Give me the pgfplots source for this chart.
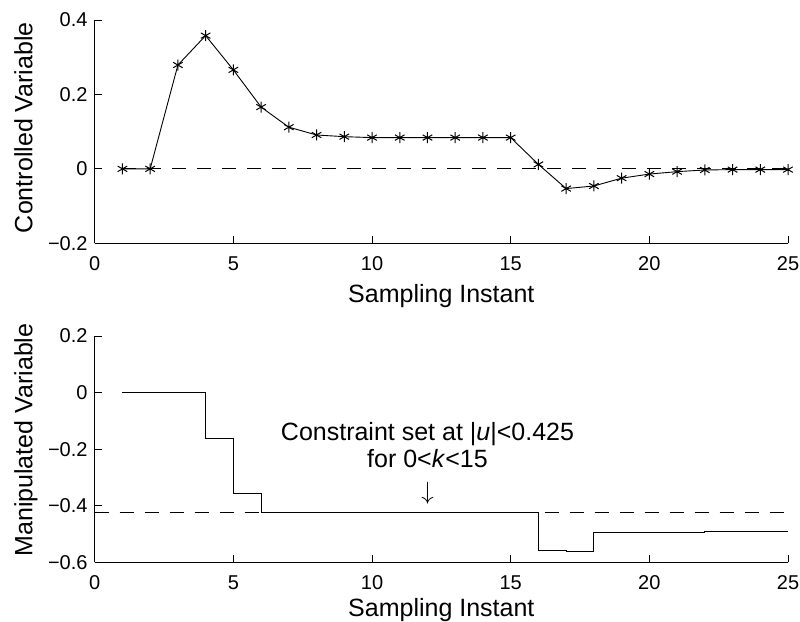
\documentclass[border=0pt]{standalone}
\usepackage{pgfplots}
\pgfplotsset{compat=1.18}
\usepackage{fontspec}
\setmainfont{Liberation Sans}
\begin{document}
\begin{tikzpicture}
\useasboundingbox (0pt,0pt) rectangle (800pt,621pt);
\pgfplotsset{mystyle/.style={
  scale only axis, width=693.3pt,
  xmin=0, xmax=25,
  axis x line*=bottom, axis y line*=left,
  axis line style={-, line width=0.8pt, black},
  tick align=inside, major tick length=7pt,
  tick style={line width=0.8pt, black},
  xtick={0,5,10,15,20,25}, xticklabels={0,5,10,15,20,25},
  ticklabel style={font=\fontsize{20}{24}\selectfont},
  xticklabel style={inner sep=0pt, anchor=north, yshift=-13pt},
  yticklabel style={inner sep=0pt, anchor=east, xshift=-7pt},
  xlabel={Sampling Instant},
}}
\begin{axis}[mystyle, at={(94.7pt,377.7pt)}, anchor=south west, height=223.3pt,
  ymin=-0.2, ymax=0.4, ytick={-0.2,0,0.2,0.4}, yticklabels={−0.2,0,0.2,0.4},
  ylabel={Controlled Variable},
  every axis y label/.style={at={(axis description cs:-0.090,0.518)}, rotate=90, anchor=base, font=\fontsize{25}{30}\selectfont},
  every axis x label/.style={at={(axis description cs:0.5,-0.263)}, anchor=base, font=\fontsize{25}{30}\selectfont}]
\addplot[black, line width=0.8pt, dash pattern=on 14pt off 11pt] coordinates {(1,0) (25,0)};
\addplot[black, line width=0.9pt, mark=asterisk, mark size=5.5pt, mark options={solid, line width=1pt}] coordinates {
(1,0) (2,0) (3,0.279) (4,0.358) (5,0.266) (6,0.166) (7,0.112) (8,0.091) (9,0.0865)
(10,0.084) (11,0.084) (12,0.084) (13,0.084) (14,0.084) (15,0.084)
(16,0.012) (17,-0.053) (18,-0.046) (19,-0.025) (20,-0.014) (21,-0.0075) (22,-0.003)
(23,-0.002) (24,-0.002) (25,-0.002)};
\end{axis}
\begin{axis}[mystyle, at={(94.7pt,58.7pt)}, anchor=south west, height=226.3pt,
  ymin=-0.6, ymax=0.2, ytick={-0.6,-0.4,-0.2,0,0.2}, yticklabels={−0.6,−0.4,−0.2,0,0.2},
  ylabel={Manipulated Variable},
  every axis y label/.style={at={(axis description cs:-0.090,0.540)}, rotate=90, anchor=base, font=\fontsize{25}{30}\selectfont},
  every axis x label/.style={at={(axis description cs:0.5,-0.240)}, anchor=base, font=\fontsize{25}{30}\selectfont}]
\addplot[black, line width=0.8pt, dash pattern=on 14pt off 11pt] coordinates {(0,-0.425) (25,-0.425)};
\addplot[black, line width=0.9pt, const plot] coordinates {
(1,0) (2,0) (3,0) (4,-0.163) (5,-0.356) (6,-0.425) (7,-0.425) (8,-0.425) (9,-0.425)
(10,-0.425) (11,-0.425) (12,-0.425) (13,-0.425) (14,-0.425) (15,-0.425)
(16,-0.559) (17,-0.561) (18,-0.496) (19,-0.495) (20,-0.494) (21,-0.493) (22,-0.492)
(23,-0.492) (24,-0.492) (25,-0.492)};
\node[anchor=base, inner sep=0pt, font=\fontsize{25}{30}\selectfont] at (axis cs:12,-0.170) {Constraint set at |\textit{u}|<0.425};
\node[anchor=base, inner sep=0pt, font=\fontsize{25}{30}\selectfont] at (axis cs:12,-0.2665) {for 0<\textit{k}<15};
\node[inner sep=0pt, font=\fontsize{26}{30}\selectfont] at (axis cs:12,-0.355) {$\downarrow$};
\end{axis}
\end{tikzpicture}
\end{document}
